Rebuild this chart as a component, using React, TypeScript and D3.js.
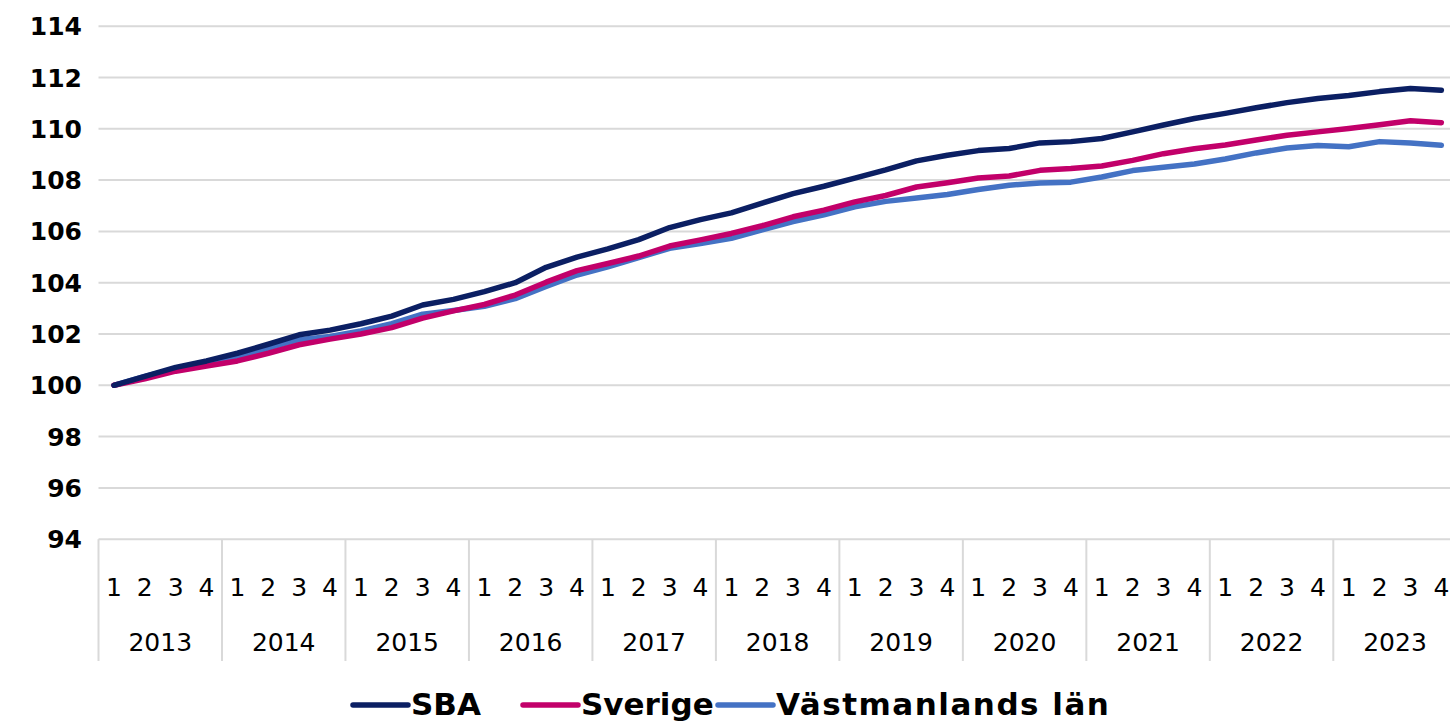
import React, { useRef, useEffect } from 'react';
import * as d3 from 'd3';

const years = ['2013', '2014', '2015', '2016', '2017', '2018', '2019', '2020', '2021', '2022', '2023'];
const quarters = ['1', '2', '3', '4'];
const yTicks = [94, 96, 98, 100, 102, 104, 106, 108, 110, 112, 114];

const sba = [100, 100.35, 100.7, 100.95, 101.25, 101.6, 101.97, 102.15, 102.4, 102.7, 103.13, 103.35,
  103.65, 104.0, 104.6, 105.0, 105.32, 105.68, 106.15, 106.46, 106.72, 107.1, 107.47, 107.76,
  108.08, 108.4, 108.75, 108.97, 109.15, 109.23, 109.45, 109.5, 109.62, 109.88, 110.15, 110.4,
  110.6, 110.82, 111.02, 111.18, 111.3, 111.45, 111.57, 111.5];
const sverige = [100, 100.25, 100.55, 100.75, 100.95, 101.25, 101.58, 101.8, 102.0, 102.25, 102.62, 102.9,
  103.15, 103.52, 104.02, 104.47, 104.75, 105.04, 105.43, 105.67, 105.92, 106.22, 106.57, 106.83,
  107.15, 107.4, 107.73, 107.9, 108.08, 108.16, 108.38, 108.45, 108.55, 108.77, 109.03, 109.22,
  109.37, 109.56, 109.75, 109.88, 110.01, 110.16, 110.31, 110.24];
const vastmanland = [100, 100.35, 100.65, 100.85, 101.1, 101.45, 101.78, 101.9, 102.12, 102.4, 102.77, 102.92,
  103.08, 103.38, 103.85, 104.3, 104.62, 104.98, 105.34, 105.53, 105.73, 106.06, 106.38, 106.65,
  106.96, 107.17, 107.3, 107.44, 107.63, 107.8, 107.89, 107.92, 108.12, 108.37, 108.5, 108.63,
  108.82, 109.06, 109.25, 109.35, 109.3, 109.5, 109.45, 109.36];

const seriesNames = ['SBA', 'Sverige', 'Västmanlands län'];
const seriesColors = ['#0b1f63', '#c2006a', '#4472c4'];

const W = 1450;
const H = 723;
const font = "'Century Gothic', 'DejaVu Sans', sans-serif";

const App: React.FC = () => {
  const svgRef = useRef<SVGSVGElement>(null);

  useEffect(() => {
    if (!svgRef.current) return;
    const svg = d3.select(svgRef.current);
    svg.selectAll('*').remove();

    const left = 98.5;
    const qWidth = 30.87;
    const keys = years.flatMap(y => quarters.map(q => `${y}-${q}`));
    const right = left + keys.length * qWidth;

    const x = d3.scaleBand<string>().domain(keys).range([left, right]).padding(0);
    const y = d3.scaleLinear().domain([94, 114]).range([539.2, 26.2]);
    const cx = (k: string) => (x(k) || 0) + x.bandwidth() / 2;

    // gridlines
    svg.append('g')
      .selectAll('line')
      .data(yTicks)
      .enter()
      .append('line')
      .attr('x1', left)
      .attr('x2', W)
      .attr('y1', d => y(d))
      .attr('y2', d => y(d))
      .attr('stroke', '#d9d9d9')
      .attr('stroke-width', 2);

    // y labels
    svg.append('g')
      .selectAll('text')
      .data(yTicks)
      .enter()
      .append('text')
      .attr('x', 82)
      .attr('y', d => y(d))
      .attr('dy', '0.36em')
      .attr('text-anchor', 'end')
      .style('font-family', font)
      .style('font-weight', 'bold')
      .style('font-size', '25px')
      .text(d => d);

    // category axis dividers
    const yearBands = d3.scaleBand<string>().domain(years).range([left, right]);
    svg.append('g')
      .selectAll('line')
      .data(years)
      .enter()
      .append('line')
      .attr('x1', d => yearBands(d) || 0)
      .attr('x2', d => yearBands(d) || 0)
      .attr('y1', 539.2)
      .attr('y2', 661)
      .attr('stroke', '#d9d9d9')
      .attr('stroke-width', 2);

    // quarter labels
    svg.append('g')
      .selectAll('text')
      .data(keys)
      .enter()
      .append('text')
      .attr('x', d => cx(d))
      .attr('y', 596)
      .attr('text-anchor', 'middle')
      .style('font-family', font)
      .style('font-size', '25px')
      .text(d => d.split('-')[1]);

    // year labels
    svg.append('g')
      .selectAll('text')
      .data(years)
      .enter()
      .append('text')
      .attr('x', d => (yearBands(d) || 0) + yearBands.bandwidth() / 2)
      .attr('y', 651)
      .attr('text-anchor', 'middle')
      .style('font-family', font)
      .style('font-size', '25px')
      .text(d => d);

    // lines (SBA drawn on top)
    const allSeries = [sba, sverige, vastmanland];
    const line = d3.line<number>()
      .x((_, i) => cx(keys[i]))
      .y(d => y(d));
    allSeries.slice().reverse().forEach((vals, ri) => {
      const i = allSeries.length - 1 - ri;
      svg.append('path')
        .datum(vals)
        .attr('d', line)
        .attr('fill', 'none')
        .attr('stroke', seriesColors[i])
        .attr('stroke-width', 5.5)
        .attr('stroke-linejoin', 'round')
        .attr('stroke-linecap', 'round');
    });

    // legend
    const legendX = [353, 523, 718];
    const lg = svg.append('g');
    seriesNames.forEach((name, i) => {
      lg.append('line')
        .attr('x1', legendX[i])
        .attr('x2', legendX[i] + 55)
        .attr('y1', 705)
        .attr('y2', 705)
        .attr('stroke', seriesColors[i])
        .attr('stroke-width', 5.5)
        .attr('stroke-linecap', 'round');
      lg.append('text')
        .attr('x', legendX[i] + 58)
        .attr('y', 715)
        .style('font-family', font)
        .style('font-weight', 'bold')
        .style('font-size', '31px')
        .style('letter-spacing', i === 2 ? '1.5px' : '0px')
        .text(name);
    });
  }, []);

  return (
    <div style={{ position: 'fixed', left: 0, top: 0, width: W, height: H, overflow: 'hidden', background: '#fff' }}>
      <svg ref={svgRef} width={W} height={H} />
    </div>
  );
};

export default App;
